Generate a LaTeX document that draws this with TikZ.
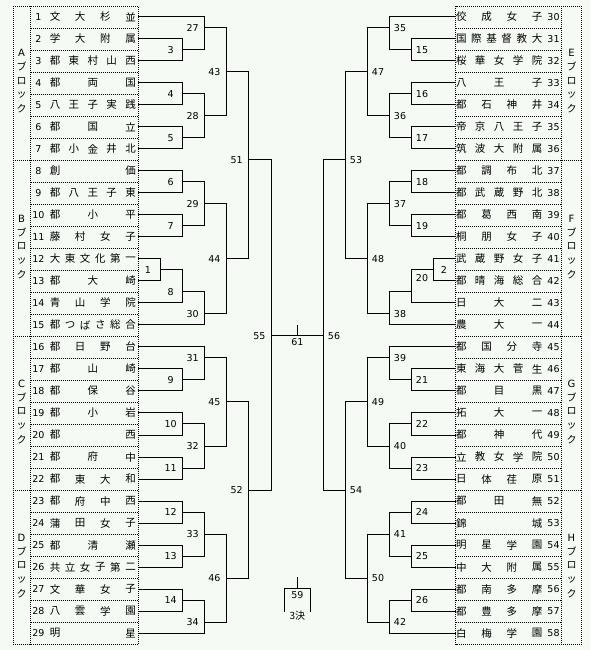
\documentclass[tikz,border=0pt]{standalone}
\usepackage{fontspec}
\setmainfont{Noto Sans CJK JP}
\newfontfamily\numfont{DejaVu Sans}
\definecolor{bgc}{RGB}{245,250,245}
\tikzset{
  br/.style={line width=1pt, line cap=rect},
  dt/.style={line width=1pt, dash pattern=on 1pt off 1pt, black},
  lbl/.style={font=\numfont\fontsize{9.5}{10}\selectfont, inner sep=0pt},
  nm/.style={font=\fontsize{10.5}{12}\selectfont, inner sep=0pt},
  blkc/.style={font=\fontsize{10}{11}\selectfont, inner sep=0pt},
  declare function={ry(\i)=-5.2+22.01*\i; sep(\k)=6.3+22.01*\k;}
}
% left match: X, ya, yb, yo, Xnext, label
\newcommand\lmatch[6]{%
  \draw[br] (#1,{ry(#2)}) -- (#1,{ry(#3)});
  \draw[br] (#1,{ry(#4)}) -- (#5,{ry(#4)});
  \node[lbl] (m#6) at ({#1-12},{ry(#4)}) {#6};}
\newcommand\rmatch[6]{%
  \draw[br] (#1,{ry(#2)}) -- (#1,{ry(#3)});
  \draw[br] (#1,{ry(#4)}) -- (#5,{ry(#4)});
  \node[lbl] (m#6) at ({#1+10.7},{ry(#4)}) {#6};}
% teams: row, number, count, chars, line end x
\newcommand\lteam[5]{%
  \node[lbl] (t#2) at (38.5,{ry(#1)}) {#2};
  \foreach \c [count=\k] in {#4} {\node[nm] at ({55+75.5*(\k-1)/(#3-1)},{ry(#1)}) {\c};}
  \draw[br] (138,{ry(#1)}) -- (#5,{ry(#1)});}
\newcommand\rteam[5]{%
  \node[lbl] (t#2) at (553.5,{ry(#1)}) {#2};
  \foreach \c [count=\k] in {#4} {\node[nm] at ({461.3+75.7*(\k-1)/(#3-1)},{ry(#1)}) {\c};}
  \draw[br] (455.7,{ry(#1)}) -- (#5,{ry(#1)});}
\newcommand\blk[3]{%
  \node[lbl, font=\numfont\fontsize{10}{11}\selectfont] at (#1,{#2-28}) {#3};
  \node[blkc] at (#1,{#2-14}) {ブ};
  \node[blkc] at (#1,{#2}) {ロ};
  \node[blkc] at (#1,{#2+14}) {ッ};
  \node[blkc] at (#1,{#2+28}) {ク};}
\begin{document}
\begin{tikzpicture}[x=1pt,y=-1pt]
\useasboundingbox[fill=bgc] (0,0) rectangle (590,650);
% ---- tables ----
\draw[dt] (13,6.3) rectangle (138,644.6);
\draw[dt] (30.5,6.3) -- (30.5,644.6);
\draw[dt] (455.7,6.3) rectangle (581.5,644.6);
\draw[dt] (561.5,6.3) -- (561.5,644.6);
\foreach \k in {1,...,28} {
  \draw[dt] (30.5,{sep(\k)}) -- (138,{sep(\k)});
  \draw[dt] (455.7,{sep(\k)}) -- (561.5,{sep(\k)});
}
\foreach \k in {7,15,22} {
  \draw[dt] (13,{sep(\k)}) -- (30.5,{sep(\k)});
  \draw[dt] (561.5,{sep(\k)}) -- (581.5,{sep(\k)});
}
\blk{21.5}{80.85}{A}
\blk{21.5}{246.5}{B}
\blk{21.5}{411.5}{C}
\blk{21.5}{565.5}{D}
\blk{571.5}{80.85}{E}
\blk{571.5}{246.5}{F}
\blk{571.5}{411.5}{G}
\blk{571.5}{565.5}{H}
% ---- left teams ----
\lteam{1}{1}{4}{文,大,杉,並}{204.7}
\lteam{2}{2}{4}{学,大,附,属}{182.7}
\lteam{3}{3}{5}{都,東,村,山,西}{182.7}
\lteam{4}{4}{3}{都,両,国}{182.7}
\lteam{5}{5}{5}{八,王,子,実,践}{182.7}
\lteam{6}{6}{3}{都,国,立}{182.7}
\lteam{7}{7}{5}{都,小,金,井,北}{182.7}
\lteam{8}{8}{2}{創,価}{182.7}
\lteam{9}{9}{5}{都,八,王,子,東}{182.7}
\lteam{10}{10}{3}{都,小,平}{182.7}
\lteam{11}{11}{4}{藤,村,女,子}{182.7}
\lteam{12}{12}{6}{大,東,文,化,第,一}{160}
\lteam{13}{13}{3}{都,大,崎}{160}
\lteam{14}{14}{4}{青,山,学,院}{182.7}
\lteam{15}{15}{6}{都,つ,ば,さ,総,合}{204.7}
\lteam{16}{16}{4}{都,日,野,台}{204.7}
\lteam{17}{17}{3}{都,山,崎}{182.7}
\lteam{18}{18}{3}{都,保,谷}{182.7}
\lteam{19}{19}{3}{都,小,岩}{182.7}
\lteam{20}{20}{2}{都,西}{182.7}
\lteam{21}{21}{3}{都,府,中}{182.7}
\lteam{22}{22}{4}{都,東,大,和}{182.7}
\lteam{23}{23}{4}{都,府,中,西}{182.7}
\lteam{24}{24}{4}{蒲,田,女,子}{182.7}
\lteam{25}{25}{3}{都,清,瀬}{182.7}
\lteam{26}{26}{6}{共,立,女,子,第,二}{182.7}
\lteam{27}{27}{4}{文,華,女,子}{182.7}
\lteam{28}{28}{4}{八,雲,学,園}{182.7}
\lteam{29}{29}{2}{明,星}{204.7}
% ---- right teams ----
\rteam{1}{30}{4}{佼,成,女,子}{389.3}
\rteam{2}{31}{6}{国,際,基,督,教,大}{411.3}
\rteam{3}{32}{5}{桜,華,女,学,院}{411.3}
\rteam{4}{33}{3}{八,王,子}{411.3}
\rteam{5}{34}{4}{都,石,神,井}{411.3}
\rteam{6}{35}{5}{帝,京,八,王,子}{411.3}
\rteam{7}{36}{5}{筑,波,大,附,属}{411.3}
\rteam{8}{37}{4}{都,調,布,北}{411.3}
\rteam{9}{38}{5}{都,武,蔵,野,北}{411.3}
\rteam{10}{39}{4}{都,葛,西,南}{411.3}
\rteam{11}{40}{4}{桐,朋,女,子}{411.3}
\rteam{12}{41}{5}{武,蔵,野,女,子}{433.3}
\rteam{13}{42}{5}{都,晴,海,総,合}{433.3}
\rteam{14}{43}{3}{日,大,二}{411.3}
\rteam{15}{44}{3}{農,大,一}{389.3}
\rteam{16}{45}{4}{都,国,分,寺}{389.3}
\rteam{17}{46}{5}{東,海,大,菅,生}{411.3}
\rteam{18}{47}{3}{都,目,黒}{411.3}
\rteam{19}{48}{3}{拓,大,一}{411.3}
\rteam{20}{49}{3}{都,神,代}{411.3}
\rteam{21}{50}{5}{立,教,女,学,院}{411.3}
\rteam{22}{51}{4}{日,体,荏,原}{411.3}
\rteam{23}{52}{3}{都,田,無}{411.3}
\rteam{24}{53}{2}{錦,城}{411.3}
\rteam{25}{54}{4}{明,星,学,園}{411.3}
\rteam{26}{55}{4}{中,大,附,属}{411.3}
\rteam{27}{56}{4}{都,南,多,摩}{411.3}
\rteam{28}{57}{4}{都,豊,多,摩}{411.3}
\rteam{29}{58}{4}{白,梅,学,園}{389.3}
% ---- left bracket ----
\lmatch{182.7}{2}{3}{2.5}{204.7}{3}
\lmatch{204.7}{1}{2.5}{1.5}{226.3}{27}
\lmatch{182.7}{4}{5}{4.5}{204.7}{4}
\lmatch{182.7}{6}{7}{6.5}{204.7}{5}
\lmatch{204.7}{4.5}{6.5}{5.5}{226.3}{28}
\lmatch{226.3}{1.5}{5.5}{3.5}{248.7}{43}
\lmatch{182.7}{8}{9}{8.5}{204.7}{6}
\lmatch{182.7}{10}{11}{10.5}{204.7}{7}
\lmatch{204.7}{8.5}{10.5}{9.5}{226.3}{29}
\lmatch{160}{12}{13}{12.5}{182.7}{1}
\lmatch{182.7}{12.5}{14}{13.5}{204.7}{8}
\lmatch{204.7}{13.5}{15}{14.5}{226.3}{30}
\lmatch{226.3}{9.5}{14.5}{12}{248.7}{44}
\lmatch{248.7}{3.5}{12}{7.5}{271.3}{51}
\lmatch{182.7}{17}{18}{17.5}{204.7}{9}
\lmatch{204.7}{16}{17.5}{16.5}{226.3}{31}
\lmatch{182.7}{19}{20}{19.5}{204.7}{10}
\lmatch{182.7}{21}{22}{21.5}{204.7}{11}
\lmatch{204.7}{19.5}{21.5}{20.5}{226.3}{32}
\lmatch{226.3}{16.5}{20.5}{18.5}{248.7}{45}
\lmatch{182.7}{23}{24}{23.5}{204.7}{12}
\lmatch{182.7}{25}{26}{25.5}{204.7}{13}
\lmatch{204.7}{23.5}{25.5}{24.5}{226.3}{33}
\lmatch{182.7}{27}{28}{27.5}{204.7}{14}
\lmatch{204.7}{27.5}{29}{28.5}{226.3}{34}
\lmatch{226.3}{24.5}{28.5}{26.5}{248.7}{46}
\lmatch{248.7}{18.5}{26.5}{22.5}{271.3}{52}
\lmatch{271.3}{7.5}{22.5}{15.5}{297.3}{55}
% ---- right bracket ----
\rmatch{411.3}{2}{3}{2.5}{389.3}{15}
\rmatch{389.3}{1}{2.5}{1.5}{367.3}{35}
\rmatch{411.3}{4}{5}{4.5}{389.3}{16}
\rmatch{411.3}{6}{7}{6.5}{389.3}{17}
\rmatch{389.3}{4.5}{6.5}{5.5}{367.3}{36}
\rmatch{367.3}{1.5}{5.5}{3.5}{345.3}{47}
\rmatch{411.3}{8}{9}{8.5}{389.3}{18}
\rmatch{411.3}{10}{11}{10.5}{389.3}{19}
\rmatch{389.3}{8.5}{10.5}{9.5}{367.3}{37}
\rmatch{433.3}{12}{13}{12.5}{411.3}{2}
\draw[br] (411.3,{ry(12.5)}) -- (411.3,{ry(14)});
\draw[br] (411.3,{ry(13.5)}) -- (389.3,{ry(13.5)});
\node[lbl] (m20) at (422,278) {20};
\rmatch{389.3}{13.5}{15}{14.5}{367.3}{38}
\rmatch{367.3}{9.5}{14.5}{12}{345.3}{48}
\rmatch{345.3}{3.5}{12}{7.5}{323.3}{53}
\rmatch{411.3}{17}{18}{17.5}{389.3}{21}
\rmatch{389.3}{16}{17.5}{16.5}{367.3}{39}
\rmatch{411.3}{19}{20}{19.5}{389.3}{22}
\rmatch{411.3}{21}{22}{21.5}{389.3}{23}
\rmatch{389.3}{19.5}{21.5}{20.5}{367.3}{40}
\rmatch{367.3}{16.5}{20.5}{18.5}{345.3}{49}
\rmatch{411.3}{23}{24}{23.5}{389.3}{24}
\rmatch{411.3}{25}{26}{25.5}{389.3}{25}
\rmatch{389.3}{23.5}{25.5}{24.5}{367.3}{41}
\rmatch{411.3}{27}{28}{27.5}{389.3}{26}
\rmatch{389.3}{27.5}{29}{28.5}{367.3}{42}
\rmatch{367.3}{24.5}{28.5}{26.5}{345.3}{50}
\rmatch{345.3}{18.5}{26.5}{22.5}{323.3}{54}
\rmatch{323.3}{7.5}{22.5}{15.5}{297.3}{56}
% ---- final ----
\draw[br] (297.3,325) -- (297.3,{ry(15.5)});
\node[lbl, anchor=north] (m61) at (297.3,337.8) {61};
% ---- third place ----
\coordinate (t59) at (297.3,577.7);
\coordinate (h59) at (297.3,588.7);
\draw[br] (t59) -- (h59);
\draw[br] (284.3,611.7) -- (284.3,588.7) -- (310.3,588.7) -- (310.3,611.7);
\node[lbl, anchor=north] (m59) at (297.3,590.8) {59};
\node[font=\fontsize{10}{11}\selectfont, inner sep=0pt] (m3k) at (297.3,616) {3決};
\end{tikzpicture}
\end{document}
